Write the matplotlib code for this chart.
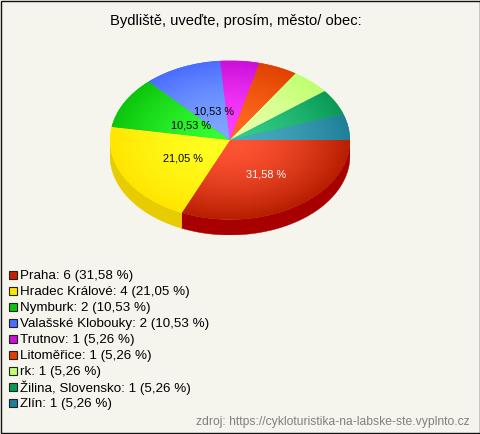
import numpy as np
import matplotlib
matplotlib.use('Agg')
import matplotlib.pyplot as plt
from matplotlib.colors import LinearSegmentedColormap
from matplotlib.patches import Rectangle

plt.rcParams['font.family'] = ['Liberation Sans', 'DejaVu Sans']

title = 'Bydliště, uveďte, prosím, město/ obec:'
source = 'zdroj: https://cykloturistika-na-labske-ste.vyplnto.cz'
cities = ['Praha', 'Hradec Králové', 'Nymburk', 'Valašské Klobouky', 'Trutnov',
          'Litoměřice', 'rk', 'Žilina, Slovensko', 'Zlín']
counts = [6, 4, 2, 2, 1, 1, 1, 1, 1]
percents = ['31,58', '21,05', '10,53', '10,53', '5,26', '5,26', '5,26', '5,26', '5,26']
legend_colors = ['#C42000', '#FFE600', '#0CC40C', '#4A6CFF', '#C90FD8',
                 '#E04000', '#BFFF70', '#089955', '#1F7F99']
inner_colors = ['#FF5535', '#FFFF22', '#33FF33', '#80A8FF', '#FF40FF',
                '#FF6A20', '#E8FFA8', '#33CC88', '#4AAAC0']
outer_colors = ['#B81E00', '#FFE600', '#0CC40C', '#4A6CFF', '#C90FD8',
                '#E04000', '#BFFF70', '#089955', '#1F7F99']
side_colors = ['#A80000', '#E6CC00', '#0A9A0A', '#3A55CC', '#A00CAC',
               '#B03200', '#99CC5A', '#067A44', '#18667A']
label_radius = [0.5, 0.47, 0.4, 0.4, 0, 0, 0, 0, 0]
label_colors = ['white', 'black', 'black', 'black', 'black', 'black', 'black', 'black', 'black']

BG = '#F5F5EE'
W, H = 480, 434
DEPTH = 15.5 / 79.5

fig = plt.figure(figsize=(W / 100, H / 100), dpi=100, facecolor=BG)

# page overlay in pixel coordinates
page = fig.add_axes([0, 0, 1, 1])
page.set_xlim(0, W)
page.set_ylim(H, 0)
page.axis('off')
page.add_patch(Rectangle((0.5, 0.5), W - 1, H - 1.5, fill=False, ec='#111111', lw=1.0))
page.text(236, 21, title, ha='center', va='center', fontsize=10.65, color='black')
page.text(470, 422, source, ha='right', va='center', fontsize=8.7, color='#808080')

for i, city in enumerate(cities):
    y = 274.5 + i * 16
    page.add_patch(Rectangle((9, y - 4), 8, 8, fc=legend_colors[i], ec='#222222', lw=0.8))
    page.text(20, y + 1, f'{city}: {counts[i]} ({percents[i]} %)', ha='left', va='center',
              fontsize=9.6, color='black')

# pie axes: ellipse spans 110-350 px across, 60.5-219.5 px down
ax = fig.add_axes([110 / W, (H - 235) / H, 240 / W, 174.5 / H])
ax.patch.set_visible(False)
wedges, _ = ax.pie(counts, startangle=0, counterclock=False, radius=1,
                   colors=outer_colors, wedgeprops={'lw': 0})
ax.set_aspect('auto')

# side wall, only the part of each slice that faces the viewer
shares = np.cumsum([0] + counts) / sum(counts) * 360
for i in range(len(counts)):
    a0, a1 = shares[i], min(shares[i + 1], 180)
    if a0 >= 180:
        break
    t = np.deg2rad(np.linspace(a0, a1, 60))
    xs = np.cos(t)
    ys = -np.sin(t)
    ax.fill(np.r_[xs, xs[::-1]], np.r_[ys, ys[::-1] - DEPTH], color=side_colors[i], lw=0.3,
            zorder=0.5)

# radial shading of the top face
grid = np.linspace(-1, 1, 400)
gx, gy = np.meshgrid(grid, grid)
rr = np.clip(np.hypot(gx, gy), 0, 1)
for i, w in enumerate(wedges):
    cmap = LinearSegmentedColormap.from_list(f'c{i}', [inner_colors[i], outer_colors[i]])
    im = ax.imshow(rr ** 1.6, extent=(-1, 1, -1, 1), origin='lower', cmap=cmap, vmin=0, vmax=1,
                   aspect='auto', zorder=1)
    im.set_clip_path(w)

for i, r in enumerate(label_radius):
    if r == 0:
        continue
    mid = np.deg2rad((shares[i] + shares[i + 1]) / 2)
    ax.annotate(f'{percents[i]} %', (r * np.cos(mid), -r * np.sin(mid)), xytext=(3, -1),
                textcoords='offset pixels', ha='center', va='center',
                fontsize=7.8, color=label_colors[i], zorder=3)

ax.set_xlim(-1, 1)
ax.set_ylim(-1 - DEPTH, 1)
ax.axis('off')

fig.savefig('out.png', dpi=100, facecolor=BG)
